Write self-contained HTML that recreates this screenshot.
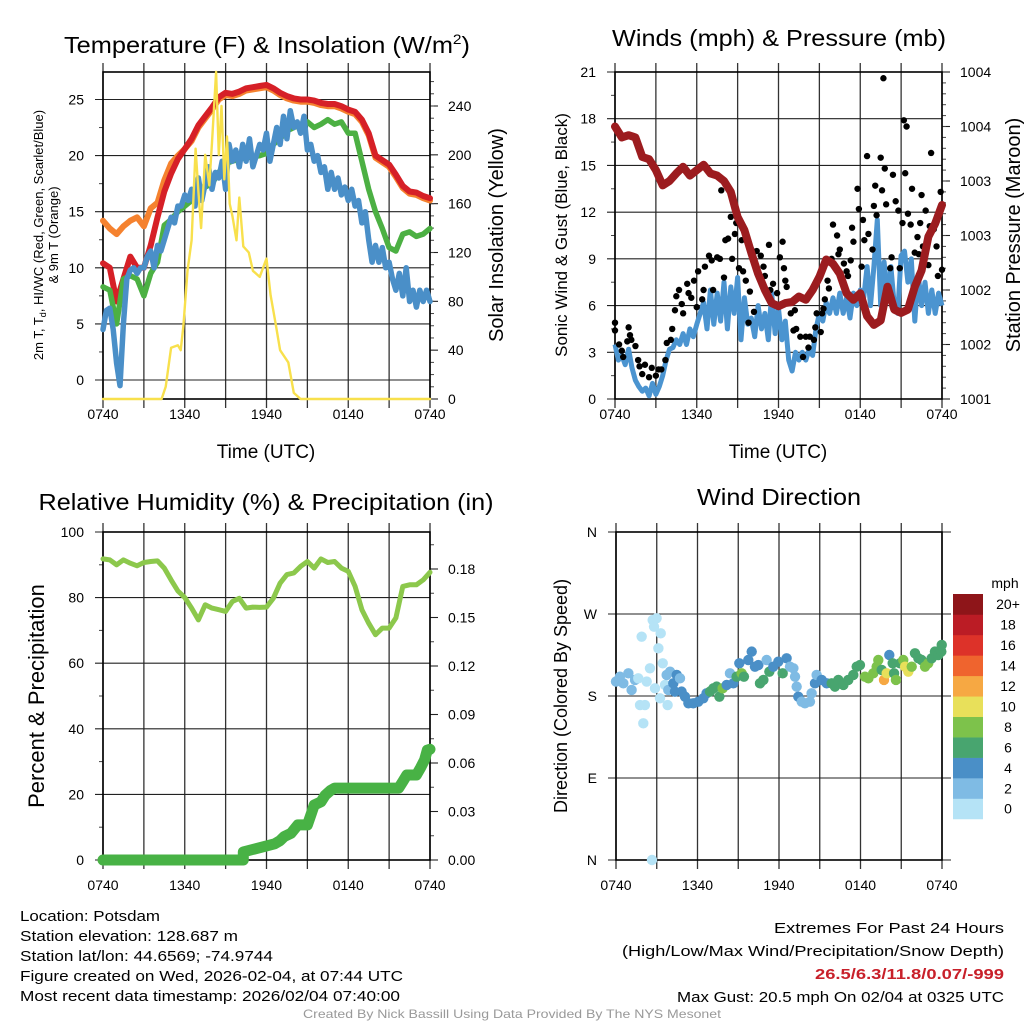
<!DOCTYPE html>
<html><head><meta charset="utf-8"><style>
html,body{margin:0;padding:0;background:#fff}
svg{display:block;font-family:"Liberation Sans",Arial,sans-serif}
</style></head><body>
<svg id="fig" width="1024" height="1024" viewBox="0 0 1024 1024" xmlns="http://www.w3.org/2000/svg">
<rect x="0" y="0" width="1024" height="1024" fill="#fff"/>
<g id="layer"></g>
<g id="texts" fill="#000">
<text x="267" y="53" text-anchor="middle" font-size="23" textLength="406" lengthAdjust="spacingAndGlyphs">Temperature (F) &amp; Insolation (W/m<tspan font-size="14" dy="-9">2</tspan><tspan dy="9">)</tspan></text>
<text x="779" y="46" text-anchor="middle" font-size="23" textLength="334" lengthAdjust="spacingAndGlyphs">Winds (mph) &amp; Pressure (mb)</text>
<text x="266" y="510" text-anchor="middle" font-size="23" textLength="455" lengthAdjust="spacingAndGlyphs">Relative Humidity (%) &amp; Precipitation (in)</text>
<text x="779" y="505" text-anchor="middle" font-size="23" textLength="164" lengthAdjust="spacingAndGlyphs">Wind Direction</text>
<text x="266" y="458" text-anchor="middle" font-size="19">Time (UTC)</text>
<text x="778" y="458" text-anchor="middle" font-size="19">Time (UTC)</text>
<text transform="translate(43,235) rotate(-90)" text-anchor="middle" font-size="13">2m T, T<tspan font-size="9" dy="3">d</tspan><tspan dy="-3">, HI/WC (Red, Green, Scarlet/Blue)</tspan></text>
<text transform="translate(58,235) rotate(-90)" text-anchor="middle" font-size="13">&amp; 9m T (Orange)</text>
<text transform="translate(503,235) rotate(-90)" text-anchor="middle" font-size="20">Solar Insolation (Yellow)</text>
<text transform="translate(567,235) rotate(-90)" text-anchor="middle" font-size="17">Sonic Wind &amp; Gust (Blue, Black)</text>
<text transform="translate(1020,235) rotate(-90)" text-anchor="middle" font-size="20">Station Pressure (Maroon)</text>
<text transform="translate(44,696) rotate(-90)" text-anchor="middle" font-size="22">Percent &amp; Precipitation</text>
<text transform="translate(567,696) rotate(-90)" text-anchor="middle" font-size="18">Direction (Colored By Speed)</text>
<text x="1005" y="588" text-anchor="middle" font-size="14">mph</text>
<g font-size="15">
<text x="20" y="921" textLength="140" lengthAdjust="spacingAndGlyphs">Location: Potsdam</text>
<text x="20" y="941" textLength="218" lengthAdjust="spacingAndGlyphs">Station elevation: 128.687 m</text>
<text x="20" y="961" textLength="253" lengthAdjust="spacingAndGlyphs">Station lat/lon: 44.6569; -74.9744</text>
<text x="20" y="981" textLength="383" lengthAdjust="spacingAndGlyphs">Figure created on Wed, 2026-02-04, at 07:44 UTC</text>
<text x="20" y="1001" textLength="380" lengthAdjust="spacingAndGlyphs">Most recent data timestamp: 2026/02/04 07:40:00</text>
<text x="1004" y="933" text-anchor="end" textLength="230" lengthAdjust="spacingAndGlyphs">Extremes For Past 24 Hours</text>
<text x="1004" y="956" text-anchor="end" textLength="382" lengthAdjust="spacingAndGlyphs">(High/Low/Max Wind/Precipitation/Snow Depth)</text>
<text x="1004" y="979" text-anchor="end" font-weight="bold" fill="#c8202a" textLength="189" lengthAdjust="spacingAndGlyphs">26.5/6.3/11.8/0.07/-999</text>
<text x="1004" y="1002" text-anchor="end" textLength="327" lengthAdjust="spacingAndGlyphs">Max Gust: 20.5 mph On 02/04 at 0325 UTC</text>
</g>
<text x="512" y="1018" text-anchor="middle" font-size="12" fill="#999" textLength="418" lengthAdjust="spacingAndGlyphs">Created By Nick Bassill Using Data Provided By The NYS Mesonet</text>
</g>
</svg>
<script>
// ---------- data ----------
const xTickHours = [0,3,6,9,12,15,18,21,24];
const xLabelHours = [0,6,12,18,24];
const xLabels = ["0740","1340","1940","0140","0740"];
const tempTicks = [0,5,10,15,20,25];
const solarTicks = [0,40,80,120,160,200,240];
const windTicks = [0,3,6,9,12,15,18,21];
const pressTicks = [1001,1001.5,1002,1002.5,1003,1003.5,1004];
const pressLabels = ["1001","1002","1002","1003","1003","1004","1004"];
const rhTicks = [0,20,40,60,80,100];
const precipTicks = [0,0.03,0.06,0.09,0.12,0.15,0.18];
const precipLabels = ["0.00","0.03","0.06","0.09","0.12","0.15","0.18"];
const dirTicks = [0,90,180,270,360];
const dirLabels = ["N","E","S","W","N"];
const cbLabels = ["0","2","4","6","8","10","12","14","16","18","20+"];
const cbColors = ["#b5e3f6","#7fbbe4","#4a8fc7","#48a56f","#7dc24b","#e8e05a","#f6a843","#ef642e","#dd3229","#bb1c25","#8e1519"];

const redT = [10.4,10.0,7.0,9.0,11.0,10.0,10.0,12.0,14.5,16.8,18.4,19.7,20.6,21.5,22.7,23.5,24.3,25.2,25.6,25.5,25.7,26.0,26.1,26.2,26.3,26.0,25.6,25.3,25.1,25.0,25.0,24.9,24.7,24.6,24.6,24.4,24.1,23.9,23.2,22.0,20.0,19.6,19.2,18.3,17.3,16.8,16.7,16.4,16.2];
const orangeT = [14.2,13.5,13.0,13.7,14.2,14.5,13.7,15.3,15.8,17.8,19.3,20.0,20.6,21.3,22.5,23.3,24.1,25.0,25.4,25.3,25.5,25.8,25.9,26.0,26.1,25.8,25.4,25.1,24.9,24.8,24.8,24.7,24.5,24.4,24.4,24.2,23.9,23.7,23.0,21.8,19.8,19.4,19.0,18.1,17.1,16.6,16.5,16.2,16.0];
const greenTd = [8.3,8.0,5.0,9.0,9.3,9.0,7.5,9.5,10.5,13.8,14.3,15.0,15.5,16.0,16.5,17.2,17.5,18.5,19.3,19.5,19.7,19.8,19.9,20.0,20.2,21.0,21.5,22.2,22.5,22.8,23.0,22.5,22.8,23.2,22.8,23.0,22.0,22.0,19.5,17.0,15.0,13.5,11.8,11.5,13.0,13.2,12.8,13.0,13.5];
const blueWC = [4.5,6.2,6.4,4.5,1.5,-0.5,5.0,9.0,9.8,10.0,9.5,10.0,10.0,11.0,11.5,10.0,12.0,11.5,12.5,13.5,14.5,14.0,15.5,15.5,16.5,16.0,17.0,15.5,18.0,16.0,17.5,19.0,17.0,18.5,18.0,19.5,17.0,21.0,19.5,20.5,19.0,21.0,19.5,21.5,19.0,20.0,21.0,20.5,22.0,19.5,21.0,22.5,21.0,23.5,21.5,24.0,22.5,23.0,22.0,23.5,20.5,21.0,19.5,20.0,18.5,19.0,17.0,18.5,17.0,18.0,16.5,17.2,16.0,17.0,15.5,16.0,14.0,15.0,12.5,10.5,12.0,10.5,11.8,10.0,10.5,9.0,8.0,9.5,7.5,10.0,7.0,8.0,6.5,8.0,7.0,8.0,7.0];
const solarHours = [0,4.3,4.6,5.0,5.5,5.7,5.9,6.2,6.5,6.8,7.0,7.2,7.5,7.8,8.0,8.3,8.5,8.7,8.9,9.1,9.3,9.5,9.8,10.0,10.3,10.7,11.0,11.5,12.0,12.3,12.7,13.0,13.3,13.6,14.0,14.5,24];
const solarVals = [0,0,10,42,44,40,60,105,130,205,170,140,200,175,210,268,200,240,180,215,160,150,130,165,125,120,105,100,115,85,60,40,35,30,5,0,0];

const pressure = [1003.50,1003.40,1003.42,1003.40,1003.22,1003.20,1003.10,1002.96,1003.00,1003.07,1003.13,1003.05,1003.10,1003.15,1003.07,1003.05,1003.00,1002.90,1002.67,1002.55,1002.34,1002.15,1002.00,1001.88,1001.85,1001.88,1001.89,1001.94,1001.91,1002.00,1002.12,1002.28,1002.24,1002.15,1001.97,1001.91,1001.97,1001.76,1001.68,1001.72,1002.03,1001.82,1001.79,1001.82,1002.03,1002.18,1002.49,1002.61,1002.78];
const windSpeed = [3.5,2.5,2.8,2.2,3.2,2.0,1.2,0.8,0.5,0.7,0.2,1.0,0.3,0.8,1.5,2.5,3.2,3.3,3.8,3.5,4.2,3.5,4.5,4.0,4.8,5.5,6.2,4.5,7.0,4.8,6.8,5.0,7.5,4.5,7.2,5.5,7.8,3.8,6.5,4.8,5.2,4.0,6.0,4.5,5.5,3.8,6.8,4.2,5.8,3.8,5.0,2.5,1.8,3.0,2.5,3.0,2.5,3.2,2.8,4.5,5.5,5.0,6.2,5.5,6.5,5.5,6.8,5.5,6.5,5.2,6.8,6.0,7.0,6.5,8.5,6.0,8.5,11.5,6.0,8.8,6.5,8.5,6.0,5.5,9.2,9.5,7.5,9.0,5.0,8.0,6.0,7.5,5.5,7.0,5.5,6.8,6.0];
const gustHours = [0,0,0.3,0.5,0.6,0.9,1.0,1.1,1.2,1.5,1.7,1.8,2.0,2.2,2.5,2.7,3.0,3.2,3.4,3.7,3.8,4.1,4.2,4.4,4.5,4.7,4.9,5.0,5.3,5.4,5.6,5.8,6.0,6.1,6.4,6.5,6.6,6.9,7.1,7.2,7.5,7.7,7.8,8.0,8.1,8.3,8.5,8.6,8.8,8.9,9.1,9.3,9.4,9.6,9.8,9.9,10.0,10.2,10.4,10.7,10.9,11.0,11.3,11.4,11.6,11.9,12.1,12.3,12.4,12.5,12.6,12.9,13.1,13.2,13.3,13.6,13.8,14.0,14.2,14.3,14.6,14.7,14.8,15.1,15.2,15.3,15.4,15.6,15.7,15.9,16.0,16.3,16.4,16.5,16.8,17.0,17.1,17.3,17.4,17.5,17.8,17.9,18.1,18.2,18.3,18.5,18.6,18.9,19.0,19.1,19.2,19.5,19.6,19.7,19.8,19.9,20.2,20.3,20.4,20.6,20.8,20.9,21.1,21.2,21.3,21.4,21.5,21.7,21.8,22.0,22.2,22.3,22.4,22.5,22.6,22.8,23.0,23.1,23.2,23.4,23.6,23.7,23.9,24.0];
const gustVals = [4.4,4.9,3.5,3.1,2.7,3.7,4.6,4.1,3.8,3.4,2.5,2.1,1.6,2.2,1.4,2.0,1.5,1.9,1.9,2.5,3.6,3.8,4.5,5.7,6.6,7.0,6.1,5.5,7.4,6.8,6.5,7.6,5.9,8.2,6.4,7.0,8.5,9.2,8.9,7.0,9.1,9.0,13.4,7.8,10.2,10.3,11.7,9.0,10.6,11.3,8.4,10.2,8.2,7.6,4.9,6.9,9.6,5.6,9.5,9.2,8.5,7.9,9.9,7.0,7.4,6.8,9.1,10.1,8.4,7.6,7.2,5.5,4.4,5.7,4.5,4.0,2.7,4.0,3.3,4.0,3.8,4.6,5.5,4.3,5.5,5.8,6.4,7.6,7.1,9.0,11.2,10.5,9.3,9.6,8.7,8.2,7.9,8.9,11.0,10.1,13.5,12.2,8.5,11.5,10.2,15.6,10.6,9.6,12.4,13.7,11.8,15.5,13.4,20.6,14.8,12.5,8.4,9.1,14.4,12.7,12.1,8.4,11.3,17.9,14.5,17.5,11.9,11.2,13.5,9.4,10.4,9.3,11.3,13.1,9.8,12.1,8.6,11.1,15.8,10.9,9.8,7.9,13.3,8.3];

const rh = [91.8,91.5,90,91.5,90.5,89.7,90.7,91,91.2,89,85.4,82,80,76.8,73.2,77.8,76.8,76.3,75.8,78.8,79.8,76.8,77.1,77,77.1,79.8,84.4,87,87.5,89.5,91,89,91.8,90.7,91,89,88,83.4,76.3,72.2,68.7,70.7,70.7,73.8,83.4,83.9,83.9,85.4,87.7];
const precipHours = [0,10.3,10.3,12.6,13.0,13.3,13.8,14.3,15.0,15.3,15.5,16.0,16.3,16.7,17.0,21.7,22.0,22.3,23.0,23.3,23.6,23.8,24];
const precipVals = [0,0,0.005,0.01,0.012,0.0145,0.0165,0.0217,0.0217,0.029,0.034,0.036,0.040,0.043,0.0445,0.0445,0.0485,0.0526,0.0526,0.057,0.062,0.068,0.0685];

const dirHours = [0,0.29,0.54,0.91,1.15,1.40,1.64,1.77,1.89,2.01, 2.13,2.26,2.50,2.70,2.80,2.87,2.99,3.12,3.24,3.29, 3.44,3.61,3.73,3.80,3.85,3.98,4.22,4.34,4.47,4.71, 4.83,5.08,5.33,5.69,6.06,6.43,6.67,6.92,7.17,7.41, 7.61,7.85,8.15,8.39,8.64,8.88,9.08,9.25,9.42,9.74, 9.99,10.23,10.48,10.60,10.85,11.09,11.29,11.58,11.95,12.27, 12.56,12.81,13.06,13.18,13.30,13.42,13.67,13.91,14.28,14.40, 14.65,14.77,15.14,15.51,15.88,16.12,16.37,16.74,17.10,17.47, 17.72,17.96,18.33,18.58,18.94,19.19,19.31,19.56,19.73,19.93, 20.12,20.37,20.47,20.61,20.91,21.15,21.28,21.52,21.77,22.01, 22.26,22.50,22.75,22.99,23.24,23.48,23.73,23.98,23.95,23.90, 2.65];
const dirVals = [195.8,201.2,193.9,204.9,186.6,197.6,199.4,170.1,245.1,150.0, 170.1,195.8,210.4,263.4,256.1,188.4,265.3,232.3,177.5,248.8, 215.9,192.1,203.1,170.1,186.6,206.7,193.9,184.8,203.1,199.4, 184.8,179.3,172.0,172.0,173.8,177.5,182.9,184.8,188.4,190.3, 179.3,188.4,192.1,204.9,193.9,201.2,215.9,204.9,201.2,219.5, 228.7,212.2,214.0,193.9,197.6,219.5,206.7,212.2,217.7,204.9, 221.4,212.2,210.4,201.2,190.3,179.3,173.8,172.0,173.8,182.9, 193.9,203.1,197.6,193.9,193.9,190.3,197.6,192.1,197.6,203.1, 212.2,214.0,201.2,199.4,204.9,212.2,219.5,208.6,197.6,204.9, 225.0,215.9,204.9,197.6,215.9,219.5,212.2,206.7,212.2,226.9, 221.4,219.5,212.2,215.9,221.4,228.7,225.0,236.0,228.7,230.5, 0];
const dirSpeeds = [3,3,3,3,3,3,1,1,1,1, 1,1,1,1,1,1,1,1,1,1, 1,1,3,1,3,3,5,5,5,3, 5,5,5,5,5,5,5,7,7,7, 7,9,5,3,5,7,5,9,7,5, 5,5,5,7,7,3,7,5,5,7, 5,3,3,3,3,5,3,3,3,3, 5,3,5,5,7,7,7,7,7,7, 7,7,9,9,9,9,9,7,13,11, 5,7,7,9,7,9,11,11,9,7, 7,7,9,9,7,7,7,7,7,7, 1];

// ---------- helpers ----------
const NS = "http://www.w3.org/2000/svg";
const layer = document.getElementById('layer');
function mk(tag, attrs, parent) {
  const e = document.createElementNS(NS, tag);
  for (const k in attrs) e.setAttribute(k, attrs[k]);
  (parent || layer).appendChild(e);
  return e;
}
function linScale(d0, d1, r0, r1) { return v => r0 + (v - d0) / (d1 - d0) * (r1 - r0); }
function polyPath(xs, ys, xf, yf) {
  let d = "";
  for (let i = 0; i < xs.length; i++) d += (i ? "L" : "M") + xf(xs[i]).toFixed(1) + "," + yf(ys[i]).toFixed(1);
  return d;
}
function hoursFor(arr, step) { return arr.map((_, i) => i * step); }

function panel(name, x0, x1, y0, y1, opts) {
  const g = mk('g', {});
  
  
  const xs = linScale(0, 24, x0, x1);
  xTickHours.forEach(h => {
    const l = mk('line', {x1: xs(h), x2: xs(h), y1: y0 - 9, y2: y1 + 9, stroke: '#333', 'stroke-width': 1.3}, g);
    
    
  });
  xLabelHours.forEach((h, i) => {
    const t = mk('text', {x: xs(h), y: opts.xLabelY, 'text-anchor': 'middle', 'font-size': 14}, g);
    t.textContent = xLabels[i];
    
    
  });
  const yl = opts.yl;
  opts.leftTicks.forEach((v, i) => {
    const y = yl(v);
    const l = mk('line', {x1: x0 - 8, x2: opts.gridRight || x1, y1: y, y2: y, stroke: '#222', 'stroke-width': 1.1}, g);
    
    
    const t = mk('text', {x: x0 - 19, y: y + 5, 'text-anchor': 'end', 'font-size': 14}, g);
    t.textContent = opts.leftLabels ? opts.leftLabels[i] : String(v);
    
    
  });
  (opts.leftMinor || []).forEach(v => {
    const y = yl(v);
    mk('line', {x1: x0 - 4, x2: x0, y1: y, y2: y, stroke: '#444', 'stroke-width': 1}, g);
  });
  if (opts.yr) {
    opts.rightTicks.forEach((v, i) => {
      const y = opts.yr(v);
      mk('line', {x1: x1, x2: x1 + 8, y1: y, y2: y, stroke: '#222', 'stroke-width': 1.1}, g);
      const t = mk('text', {x: x1 + 18, y: y + 5, 'font-size': 14}, g);
      t.textContent = opts.rightLabels ? opts.rightLabels[i] : String(v);
      
      
    });
    (opts.rightMinor || []).forEach(v => {
      const y = opts.yr(v);
      mk('line', {x1: x1, x2: x1 + 4, y1: y, y2: y, stroke: '#444', 'stroke-width': 1}, g);
    });
  }
  const f = mk('rect', {x: x0, y: y0, width: x1 - x0, height: y1 - y0, fill: 'none', stroke: '#000', 'stroke-width': 1.6}, g);
  
  
  const clip = mk('g', {}, g);
  return {g: clip, xs};
}
function range(a, b, s) { const r = []; for (let v = a; v <= b + 1e-9; v += s) r.push(+v.toFixed(4)); return r; }

// ---------- panel 1: temperature ----------
{
  const yl = linScale(0, 25, 380, 99.5);
  const yr = linScale(0, 240, 399, 106);
  const p = panel('temperature', 103, 430, 72, 399, {xLabelY: 419, yl, yr, leftTicks: tempTicks, rightTicks: solarTicks,
    leftMinor: [2.5,7.5,12.5,17.5,22.5], rightMinor: range(10, 260, 10)});
  const h = hoursFor(redT, 0.5), hb = hoursFor(blueWC, 0.25);
  const series = [
    ['orange-9m-temp-line', h, orangeT, '#f5822f', 6, yl],
    ['red-2m-temp-line', h, redT, '#d62027', 6, yl],
    ['green-dewpoint-line', h, greenTd, '#4cb043', 5.5, yl],
    ['blue-windchill-line', hb, blueWC, '#4a8fc8', 5.5, yl],
    ['yellow-solar-line', solarHours, solarVals, '#f8e04c', 2.4, yr]
  ];
  series.forEach(s => {
    const el = mk('path', {d: polyPath(s[1], s[2], p.xs, s[5]), fill: 'none', stroke: s[3], 'stroke-width': s[4], 'stroke-linejoin': 'round', 'stroke-linecap': 'round'}, p.g);
    
    
  });
}
// ---------- panel 2: wind ----------
{
  const yl = linScale(0, 21, 399, 72);
  const yr = linScale(1001, 1004, 399, 72);
  const p = panel('wind', 615, 942, 72, 399, {xLabelY: 419, yl, yr, leftTicks: windTicks, rightTicks: pressTicks, rightLabels: pressLabels,
    leftMinor: range(1.5, 19.5, 3), rightMinor: range(1001.1, 1003.9, 0.1)});
  const wl = mk('path', {d: polyPath(hoursFor(windSpeed, 0.25), windSpeed, p.xs, yl), fill: 'none', stroke: '#4b94d0', 'stroke-width': 5, 'stroke-linejoin': 'round'}, p.g);
  
  
  gustHours.forEach((hh, i) => {
    const c = mk('circle', {cx: p.xs(hh), cy: yl(gustVals[i]), r: 3.2, fill: '#000'}, p.g);
    
    
  });
  const pl = mk('path', {d: polyPath(hoursFor(pressure, 0.5), pressure, p.xs, yr), fill: 'none', stroke: '#9c1c1f', 'stroke-width': 8, 'stroke-linejoin': 'round', 'stroke-linecap': 'round'}, p.g);
  
  
}
// ---------- panel 3: humidity ----------
{
  const yl = linScale(0, 100, 860, 532);
  const yr = linScale(0, 0.18, 860, 569);
  const p = panel('humidity', 103, 430, 532, 860, {xLabelY: 890, yl, yr, leftTicks: rhTicks, rightTicks: precipTicks, rightLabels: precipLabels,
    leftMinor: [10,30,50,70,90], rightMinor: [0.015,0.045,0.075,0.105,0.135,0.165,0.195]});
  const rl = mk('path', {d: polyPath(hoursFor(rh, 0.5), rh, p.xs, yl), fill: 'none', stroke: '#8cc84c', 'stroke-width': 5, 'stroke-linejoin': 'round', 'stroke-linecap': 'round'}, p.g);
  
  
  const pr = mk('path', {d: polyPath(precipHours, precipVals, p.xs, yr), fill: 'none', stroke: '#48b245', 'stroke-width': 11, 'stroke-linejoin': 'round', 'stroke-linecap': 'round'}, p.g);
  
  
}
// ---------- panel 4: direction ----------
{
  const yl = linScale(0, 360, 860, 532);
  const p = panel('direction', 616, 942, 532, 860, {xLabelY: 890, yl, leftTicks: dirTicks, leftLabels: dirLabels, gridRight: 951});
  dirHours.forEach((hh, i) => {
    const bin = Math.min(10, Math.floor(dirSpeeds[i] / 2));
    const c = mk('circle', {cx: p.xs(hh), cy: yl(dirVals[i]), r: 5.2, fill: cbColors[bin]}, p.g);
    
    
  });
  const cb = mk('g', {});
  
  
  const top = 594, bh = 20.45;
  cbLabels.forEach((lab, i) => {
    const y = top + (10 - i) * bh;
    const r = mk('rect', {x: 953, y: y, width: 30, height: bh + 0.3, fill: cbColors[i]}, cb);
    
    
    const t = mk('text', {x: 1008, y: y + bh / 2 + 5, 'text-anchor': 'middle', 'font-size': 14}, cb);
    t.textContent = lab;
    
    
  });
}
</script>
</body></html>
